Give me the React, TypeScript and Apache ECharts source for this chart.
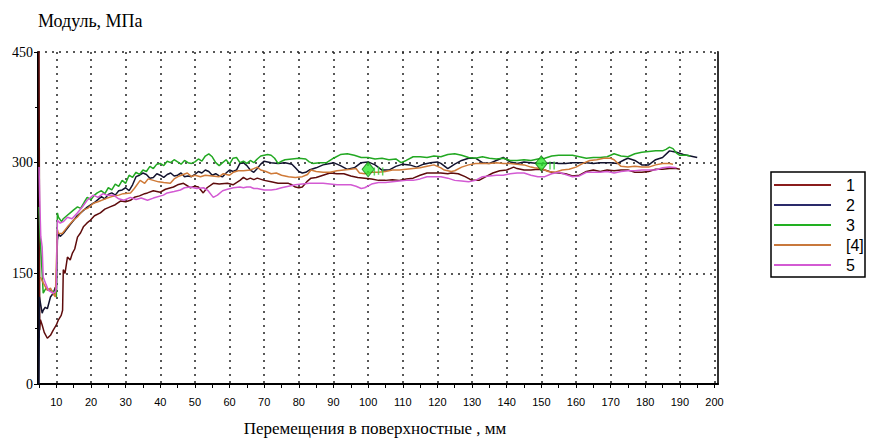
import React, { useEffect, useRef } from "react";
import * as echarts from "echarts";

const seriesNames = ["1", "2", "3", "[4]", "5"];
const seriesColors = ["#5e0c0c", "#12122e", "#22a822", "#cf7a38", "#d35ad3"];
const legendColors = ["#8a1c1c", "#2a2a6a", "#22b022", "#c8783c", "#d35ad3"];

const xLabelValues = [10, 20, 30, 40, 50, 60, 70, 80, 90, 100, 110, 120, 130, 140, 150, 160, 170, 180, 190, 200];
const xTickValues = [5, 10, 15, 20, 25, 30, 35, 40, 45, 50, 55, 60, 65, 70, 75, 80, 85, 90, 95, 100, 105, 110, 115, 120, 125, 130, 135, 140, 145, 150, 155, 160, 165, 170, 175, 180, 185, 190, 195, 200];

const s1 = [
  [5.0, 460], [5.2, 73], [5.4, 87], [5.9, 80], [6.5, 70], [7.4, 62], [8.3, 66], [9.1, 73], [10.0, 80], [10.6, 87],
  [11.4, 93], [11.8, 100], [12.0, 155], [12.5, 150], [13.2, 172], [14, 168], [14.6, 177], [15.3, 183], [16.1, 199],
  [17, 205], [17.8, 213], [18.8, 218], [19.8, 222], [21, 228], [22.7, 232], [24, 237], [25.5, 240], [27, 243],
  [28.5, 248], [30, 247], [31.4, 249], [32.5, 253], [34, 255], [35.5, 258], [36.3, 259], [38, 262], [40, 260],
  [41.5, 264], [43.8, 267], [45, 270], [46.7, 272], [48.7, 266], [50, 268], [51, 267], [52.4, 259], [53.5, 266],
  [55.3, 272], [57, 271], [59.4, 272], [61, 270], [63, 276], [64, 280], [65, 277], [66, 279], [67, 277], [68, 279],
  [70, 276], [72, 274], [74, 272], [75, 272], [77, 272], [78, 270], [79, 267], [80, 266], [81, 267], [82.5, 275],
  [83.5, 279], [85, 280], [87, 283], [89, 286], [91, 285], [93, 285], [95, 282], [97, 280], [99, 279], [101, 278],
  [103, 276], [105, 276], [107, 277], [109, 276], [111, 278], [113, 279], [115, 283], [117, 286], [119, 286],
  [121, 286], [123, 285], [124, 286], [126, 285], [128, 281], [130, 276], [132, 276], [134, 281], [136, 286],
  [138, 289], [140, 290], [142, 294], [143, 292], [145, 290], [147, 290], [149, 291], [151, 290], [153, 287],
  [155, 286], [157, 285], [159, 282], [161, 283], [163, 288], [165, 290], [167, 288], [169, 290], [171, 289],
  [173, 290], [175, 290], [177, 287], [179, 287], [181, 288], [183, 291], [185, 291], [187, 292], [189, 292], [190, 291],
];

const s2 = [
  [5.0, 0], [5.1, 118], [5.9, 96], [6.2, 100], [6.8, 104], [7.4, 102], [8.3, 118], [9.1, 123], [9.7, 131], [10.0, 125],
  [10.3, 195], [10.6, 204], [11.1, 200], [12, 204], [13, 210], [14, 216], [15, 222], [16, 228], [17, 232], [18, 236],
  [19, 240], [20, 243], [21, 246], [22, 250], [23, 254], [24, 251], [25, 257], [26, 259], [27, 256], [28, 262],
  [29, 263], [30, 266], [31, 262], [32, 270], [33, 281], [34, 283], [35, 286], [36, 284], [37, 279], [38, 280],
  [39, 285], [40, 283], [41, 280], [42, 284], [43, 286], [44, 282], [45, 283], [46, 286], [47, 281], [48, 282],
  [49, 281], [50, 284], [51, 288], [52, 286], [53, 290], [54, 288], [55, 283], [56, 285], [57, 282], [58, 281],
  [59, 286], [60, 290], [61, 288], [62, 290], [63, 299], [64, 300], [65, 296], [66, 290], [67, 287], [68, 292],
  [69, 298], [70, 302], [72, 300], [74, 299], [76, 300], [78, 298], [79, 293], [80, 288], [81, 286], [82, 287],
  [83, 290], [85, 293], [87, 297], [89, 299], [90, 300], [92, 296], [94, 291], [96, 293], [98, 300], [100, 301],
  [102, 297], [104, 290], [106, 290], [108, 295], [110, 298], [112, 297], [114, 294], [116, 298], [118, 300],
  [120, 301], [121, 299], [123, 292], [125, 298], [127, 303], [129, 306], [131, 306], [133, 300], [135, 299],
  [137, 303], [139, 307], [141, 301], [143, 299], [145, 301], [147, 300], [149, 299], [151, 299], [153, 300],
  [155, 299], [157, 299], [159, 300], [161, 300], [163, 300], [165, 299], [167, 300], [170, 300], [172, 299],
  [174, 304], [175, 306], [177, 303], [179, 297], [181, 297], [183, 304], [185, 307], [187, 316], [189, 314],
  [191, 311], [193, 309], [195, 307],
];

const s3 = [
  [5.0, 240], [5.3, 200], [5.9, 150], [6.2, 123], [7, 130], [8.3, 127], [9.1, 125], [9.7, 121], [10.0, 118],
  [10.3, 232], [10.6, 226], [11.5, 220], [12.0, 224], [13, 228], [14.0, 232], [15, 236], [16.1, 240], [17, 238],
  [18, 246], [18.9, 253], [20, 250], [21, 256], [21.8, 259], [23, 262], [24, 258], [25, 266], [26, 263], [27, 271],
  [28, 268], [29, 276], [30, 272], [31, 283], [32, 280], [33, 287], [34, 284], [35, 290], [36, 288], [37, 295],
  [38, 292], [39, 298], [40, 299], [41, 296], [42, 302], [43, 300], [44, 304], [45, 301], [46, 298], [47, 303],
  [48, 300], [49, 299], [50, 301], [51, 305], [52, 302], [53, 309], [54, 312], [55, 308], [56, 300], [57, 296],
  [58, 300], [59, 304], [60, 298], [61, 306], [62, 307], [63, 300], [64, 302], [65, 299], [66, 303], [67, 300],
  [68, 305], [69, 309], [71, 311], [72, 310], [73, 306], [74, 299], [75, 302], [76, 304], [78, 305], [80, 306],
  [82, 305], [83, 301], [84, 299], [86, 300], [88, 300], [90, 306], [92, 311], [94, 312], [96, 310], [98, 307],
  [100, 307], [102, 305], [104, 306], [106, 304], [108, 305], [109.5, 300], [111, 303], [113, 308], [115, 308],
  [117, 307], [119, 309], [121, 308], [123, 311], [125, 312], [127, 310], [129, 307], [131, 306], [133, 308],
  [135, 306], [137, 305], [139, 306], [141, 303], [143, 303], [145, 304], [147, 303], [149, 305], [151, 306],
  [153, 309], [155, 310], [157, 310], [159, 310], [161, 308], [163, 306], [165, 307], [167, 307], [169, 308],
  [171, 312], [173, 309], [175, 308], [177, 312], [179, 314], [181, 315], [183, 316], [185, 316], [186, 318],
  [187, 321], [188, 319], [189, 313], [190, 310], [192, 310], [193, 309],
];

const s4 = [
  [5.4, 145], [6.2, 137], [7.4, 127], [8.3, 130], [9.1, 122], [9.7, 118], [10.3, 209], [10.6, 204], [11.7, 204],
  [13.2, 213], [14.9, 222], [16, 226], [17.8, 236], [19, 238], [20.7, 245], [22, 247], [24.7, 252], [26, 254],
  [28, 256], [29.3, 258], [31.4, 259], [32.5, 265], [34.2, 276], [35.5, 272], [36.5, 278], [38, 276], [39.5, 274],
  [41, 273], [42.9, 272], [44, 278], [45.5, 282], [47.8, 286], [49, 281], [50, 283], [51.6, 281], [53, 283],
  [55, 282], [57, 281], [58.2, 285], [60, 283], [61.1, 287], [62.5, 289], [64, 289], [66, 290], [67, 292],
  [68, 294], [69, 290], [70.5, 288], [72, 285], [73.5, 286], [75, 283], [77, 281], [79, 280], [81, 281],
  [82.5, 284], [83.5, 290], [85, 288], [87, 287], [89, 287], [91, 289], [93, 290], [95, 291], [96.5, 292],
  [97.5, 286], [99, 285], [101, 287], [103, 287], [105, 288], [107, 290], [109, 290], [111, 291], [113, 292],
  [115, 293], [117, 295], [119, 297], [121, 293], [122, 290], [124, 288], [125, 289], [127, 294], [129, 297],
  [131, 299], [133, 299], [135, 299], [137, 300], [139, 299], [141, 299], [143, 298], [145, 297], [147, 294],
  [148, 293], [150, 292], [152, 288], [154, 287], [156, 290], [158, 291], [160, 294], [162, 299], [164, 303],
  [166, 304], [168, 306], [170, 306], [171, 304], [173, 295], [175, 294], [177, 295], [179, 294], [181, 294],
  [183, 297], [185, 299], [187, 299], [188, 298],
];

const s5 = [
  [5.0, 294], [5.2, 250], [5.5, 200], [5.9, 186], [6.2, 145], [7.0, 135], [7.7, 127], [9.1, 123], [9.7, 125],
  [10.0, 130], [10.3, 222], [11.1, 218], [12, 220], [13.2, 226], [14.5, 224], [16.1, 232], [17.5, 240],
  [18.9, 249], [20.7, 256], [22, 253], [23.5, 258], [24.5, 256], [26.5, 256], [28, 251], [29.5, 249], [31.4, 253],
  [33, 250], [34.5, 252], [36.3, 249], [38, 252], [40.9, 256], [42, 259], [44, 261], [45.8, 263], [47, 266],
  [48.7, 267], [50.5, 265], [52.5, 266], [53.8, 262], [55.3, 253], [56.5, 256], [58, 262], [59.4, 264],
  [61.1, 266], [63, 267], [64, 266], [65, 267], [66, 267], [67, 265], [68, 265], [69, 264], [70, 263], [72, 263],
  [73.5, 264], [75, 266], [77, 268], [79, 270], [81, 271], [83, 272], [85, 272], [87, 272], [89, 271], [91, 270],
  [93, 270], [95, 270], [96.5, 268], [98, 265], [99, 266], [101, 271], [103, 273], [105, 273], [107, 274],
  [109, 275], [111, 276], [113, 276], [115, 278], [117, 281], [119, 281], [121, 281], [123, 279], [125, 276],
  [127, 275], [129, 274], [131, 276], [133, 281], [135, 282], [137, 283], [139, 283], [141, 285], [143, 286],
  [145, 286], [147, 283], [149, 281], [151, 281], [153, 285], [155, 287], [157, 284], [159, 281], [161, 282],
  [163, 287], [165, 287], [167, 287], [169, 288], [171, 286], [173, 288], [175, 289], [177, 289], [179, 290],
  [181, 290], [183, 290], [185, 293], [187, 294], [189, 293],
];

const diamondMarks = [[100, 291], [150, 299]];
const smallMarks = [[101.8, 288], [103, 289], [104.2, 288], [152.5, 296], [153.7, 296]];

const serif = "Liberation Serif";
const sans = "Liberation Sans";

export default function App() {
  const ref = useRef<HTMLDivElement>(null);
  useEffect(() => {
    if (!ref.current) return;
    const chart = echarts.init(ref.current, null, { renderer: "svg" });
    const dataList = [s1, s2, s3, s4, s5];
    const dotted = { type: [2, 5] as any, color: "#222", width: 1.5 };
    chart.setOption({
      animation: false,
      backgroundColor: "#fff",
      grid: { left: 38, right: 151, top: 52, bottom: 55, containLabel: false },
      xAxis: [
        {
          type: "value",
          min: 4.7,
          max: 201,
          position: "bottom",
          axisLine: { show: true, onZero: false, lineStyle: { color: "#000", width: 2 } },
          axisTick: { show: true, length: 4, customValues: xTickValues, lineStyle: { color: "#000", width: 1 } },
          axisLabel: { customValues: xLabelValues, fontFamily: sans, fontSize: 11, color: "#000", margin: 12 },
          splitLine: { show: false },
        },
        {
          type: "value",
          min: 4.7,
          max: 201,
          position: "bottom",
          axisLine: { show: false },
          axisTick: { show: false, customValues: xLabelValues },
          axisLabel: { show: false },
          splitLine: { show: true, lineStyle: dotted },
        },
      ],
      yAxis: [
        {
          type: "value",
          min: 0,
          max: 450,
          interval: 150,
          position: "left",
          axisLine: { show: true, lineStyle: { color: "#000", width: 2 } },
          axisTick: { show: true, length: 4, lineStyle: { color: "#000" } },
          minorTick: { show: true, splitNumber: 2, length: 3, lineStyle: { color: "#000" } },
          axisLabel: { fontFamily: serif, fontSize: 14, color: "#000", margin: 5 },
          splitLine: { show: true, lineStyle: dotted },
        },
        {
          type: "value",
          min: 0,
          max: 450,
          interval: 150,
          position: "right",
          axisLine: { show: true, lineStyle: { color: "#333", width: 2 } },
          axisTick: { show: false },
          axisLabel: { show: false },
          splitLine: { show: false },
        },
      ],
      legend: {
        orient: "vertical",
        left: 774,
        top: 176,
        data: seriesNames.map((n, i) => ({ name: n, icon: "rect", itemStyle: { color: legendColors[i] } })),
        itemWidth: 57,
        itemHeight: 2,
        itemGap: 2,
        padding: 0,
        textStyle: { fontFamily: sans, fontSize: 16, color: "#000", padding: [0, 0, 0, 10], lineHeight: 18 },
        selectedMode: false,
      },
      graphic: [
        { type: "rect", shape: { x: 771, y: 172, width: 94, height: 105 }, style: { fill: "none", stroke: "#000", lineWidth: 1.5 }, z: 100 },
        { type: "text", x: 38, y: 21, style: { text: "Модуль, МПа", fontFamily: serif, fontSize: 18, fill: "#000", textAlign: "left", textVerticalAlign: "middle" } },
        { type: "text", x: 375, y: 428, style: { text: "Перемещения в поверхностные , мм", fontFamily: serif, fontSize: 17, fill: "#000", textAlign: "center", textVerticalAlign: "middle" } },
      ],
      series: [
        ...dataList.map((d, i) => ({
          name: seriesNames[i],
          type: "line",
          data: d,
          showSymbol: false,
          symbol: "none",
          color: seriesColors[i],
          lineStyle: { width: 1.5, color: seriesColors[i] },
          xAxisIndex: 0,
          yAxisIndex: 0,
          z: 3,
        })),
        {
          name: "marks",
          type: "scatter",
          data: diamondMarks,
          symbol: "diamond",
          symbolSize: [12, 15],
          itemStyle: { color: "#2ee82e", borderColor: "#117711", borderWidth: 1 },
          z: 5,
        },
        {
          name: "ticks",
          type: "scatter",
          data: smallMarks,
          symbol: "rect",
          symbolSize: [1.5, 8],
          itemStyle: { color: "#33cc33" },
          z: 5,
        },
      ],
    });
    return () => chart.dispose();
  }, []);
  return <div ref={ref} style={{ position: "fixed", left: 0, top: 0, width: 869, height: 439 }} />;
}
